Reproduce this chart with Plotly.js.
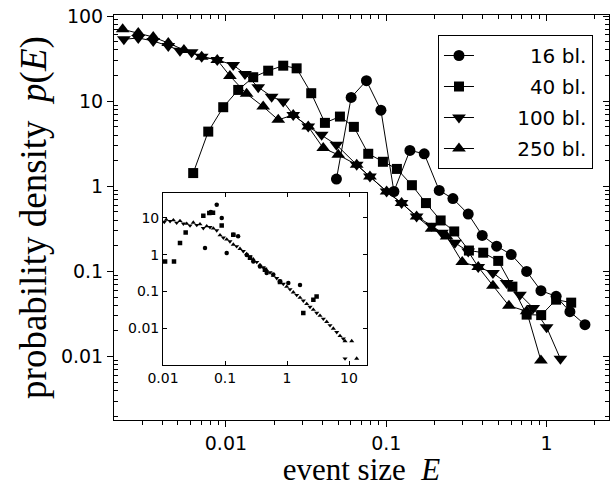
<!DOCTYPE html>
<html>
<head>
<meta charset="utf-8">
<script src="https://cdn.plot.ly/plotly-3.0.1.min.js"></script>
<style>html,body{margin:0;padding:0;background:#fff}#chart{width:612px;height:487px}</style>
</head>
<body>
<div id="chart"></div>
<script>
// ---- main panel data (event size E, probability density p(E)) ----
const seriesNames = ['\u2007\u2007\u2007\u200716 bl.', '\u2007\u2007\u2007\u200740 bl.', '\u2007\u2007\u2007100 bl.', '\u2007\u2007\u2007250 bl.'];

const E16 = [0.0489, 0.0604, 0.0752, 0.0926, 0.1116, 0.1404, 0.1725, 0.2139, 0.2604, 0.3244, 0.3966, 0.4878, 0.6014, 0.7505, 0.9215, 1.146, 1.397, 1.734];
const P16 = [1.215, 11.07, 17.4, 7.83, 0.869, 2.64, 2.41, 0.893, 0.717, 0.472, 0.265, 0.198, 0.158, 0.1001, 0.0595, 0.0510, 0.0337, 0.0237];

const E40 = [0.00625, 0.00776, 0.00962, 0.01193, 0.0148, 0.01835, 0.02277, 0.0276, 0.03404, 0.04145, 0.0514, 0.0628, 0.0772, 0.0953, 0.1165, 0.1445, 0.1768, 0.2183, 0.2653, 0.3276, 0.4023, 0.4991, 0.6118, 0.7505, 0.925, 1.146, 1.423];
const P40 = [1.43, 4.39, 8.49, 13.55, 19.1, 22.8, 26.1, 24.3, 12.4, 5.56, 6.59, 4.99, 2.41, 1.94, 1.60, 1.03, 0.635, 0.397, 0.295, 0.176, 0.166, 0.133, 0.0663, 0.0311, 0.0307, 0.0466, 0.043];

const E100 = [0.00231, 0.00284, 0.00352, 0.00437, 0.00517, 0.00611, 0.00706, 0.00883, 0.0111, 0.01314, 0.0159, 0.01928, 0.02277, 0.02629, 0.03261, 0.03953, 0.0489, 0.0654, 0.0791, 0.1005, 0.1246, 0.1546, 0.1918, 0.2223, 0.268, 0.3244, 0.3745, 0.4626, 0.563, 0.6816, 0.825, 1.0, 1.219];
const P100 = [53.3, 55.2, 50.9, 44.5, 39.2, 37.5, 33.3, 30.5, 26.6, 20.9, 14.6, 11.3, 9.88, 6.90, 5.03, 4.02, 3.07, 1.79, 1.30, 0.869, 0.635, 0.442, 0.344, 0.285, 0.217, 0.172, 0.1128, 0.0959, 0.0732, 0.0534, 0.0373, 0.0221, 0.0094];

const E250 = [0.00227, 0.00284, 0.00352, 0.00437, 0.00547, 0.00706, 0.00883, 0.01059, 0.01346, 0.01708, 0.0212, 0.02629, 0.03261, 0.04045, 0.0502, 0.0654, 0.0791, 0.1005, 0.1246, 0.1546, 0.1918, 0.2379, 0.2977, 0.3745, 0.4626, 0.5819, 0.7505, 0.9215];
const P250 = [69.8, 63.2, 56.7, 48.2, 39.9, 33.3, 30.5, 19.8, 12.2, 8.63, 6.03, 6.90, 5.03, 2.81, 2.34, 1.79, 1.30, 0.869, 0.635, 0.442, 0.317, 0.258, 0.129, 0.1128, 0.0681, 0.0396, 0.034, 0.00898];

// ---- inset data (rescaled collapse) ----
const iX16 = [0.0476, 0.059, 0.0735, 0.0886, 0.1065, 0.1361, 0.1626, 0.2239, 0.286, 0.366, 0.47, 0.6, 0.77, 1.05, 1.62];
const iY16 = [1.52, 14.6, 23, 10, 1.11, 3.5, 3.2, 0.99, 0.66, 0.48, 0.32, 0.29, 0.19, 0.17, 0.15];

const iX40 = [0.0108, 0.01504, 0.0188, 0.0232, 0.0447, 0.0558, 0.064, 0.0884, 0.136, 0.253, 0.44, 0.77, 1.83, 2.66, 3.0];
const iY40 = [0.66, 0.657, 2.08, 4.05, 11.5, 13.7, 13.9, 6.2, 3.5, 0.83, 0.39, 0.18, 0.026, 0.06, 0.073];

const iX100 = [0.0105, 0.0130, 0.0166, 0.0213, 0.0273, 0.0350, 0.0447, 0.0573, 0.0735, 0.094, 0.120, 0.154, 0.197, 0.253, 0.325, 0.415, 0.532, 0.682, 0.872, 1.118, 1.434, 1.832, 2.35, 3.013, 3.85, 4.938, 6.333, 8.093, 8.62];
const iY100 = [7.8, 8.2, 7.4, 7.0, 6.2, 6.4, 5.3, 5.6, 4.6, 2.9, 2.3, 1.7, 1.25, 0.9, 0.63, 0.45, 0.33, 0.23, 0.16, 0.115, 0.08, 0.056, 0.038, 0.026, 0.018, 0.012, 0.0078, 0.0052, 0.0015];

const iX250 = [0.0113, 0.0147, 0.0188, 0.0241, 0.0308, 0.0395, 0.0507, 0.0648, 0.0831, 0.1065, 0.1361, 0.1746, 0.2239, 0.2861, 0.3669, 0.4706, 0.6012, 0.7713, 0.989, 1.264, 1.621, 2.079, 2.657, 3.406, 4.368, 5.583, 7.159, 8.62, 11.05, 13.3];
const iY250 = [9.0, 8.7, 8.3, 7.0, 7.5, 6.8, 6.0, 5.2, 3.4, 2.6, 1.9, 1.45, 1.05, 0.75, 0.53, 0.38, 0.27, 0.19, 0.135, 0.095, 0.068, 0.046, 0.032, 0.022, 0.015, 0.0098, 0.0062, 0.0045, 0.0045, 0.0015];

// ---- tick labels and tick positions ----
const mainXTicks = [0.01, 0.1, 1];
const mainXText = ['0.01', '0.1', '1'];
const mainXMinor = [0.002, 0.003, 0.004, 0.005, 0.006, 0.007, 0.008, 0.009,
                    0.02, 0.03, 0.04, 0.05, 0.06, 0.07, 0.08, 0.09,
                    0.2, 0.3, 0.4, 0.5, 0.6, 0.7, 0.8, 0.9, 2];
const mainYTicks = [0.01, 0.1, 1, 10, 100];
const mainYText = ['0.01', '0.1', '1', '10', '100'];
const mainYMinor = [0.002, 0.003, 0.004, 0.005, 0.006, 0.007, 0.008, 0.009,
                    0.02, 0.03, 0.04, 0.05, 0.06, 0.07, 0.08, 0.09,
                    0.2, 0.3, 0.4, 0.5, 0.6, 0.7, 0.8, 0.9,
                    2, 3, 4, 5, 6, 7, 8, 9,
                    20, 30, 40, 50, 60, 70, 80, 90];
const insetXTicks = [0.01, 0.1, 1, 10];
const insetXText = ['0.01', '0.1', '1', '10'];
const insetYTicks = [0.01, 0.1, 1, 10];
const insetYText = ['0.01', '0.1', '1', '10'];

const symbols = ['circle', 'square', 'triangle-down', 'triangle-up'];
const sizes = [11, 10, 12, 12];
const mainX = [E16, E40, E100, E250];
const mainY = [P16, P40, P100, P250];
const insX = [iX16, iX40, iX100, iX250];
const insY = [iY16, iY40, iY100, iY250];

const traces = [];
for (let i = 0; i < 4; i++) {
  traces.push({
    x: mainX[i], y: mainY[i], type: 'scatter', mode: 'lines+markers',
    name: seriesNames[i], legendgroup: 'g' + i,
    line: {color: '#000', width: 1},
    marker: {symbol: symbols[i], size: sizes[i], color: '#000'},
    xaxis: 'x', yaxis: 'y'
  });
}
for (let i = 0; i < 4; i++) {
  traces.push({
    x: insX[i], y: insY[i], type: 'scatter', mode: 'markers',
    showlegend: false,
    marker: {symbol: symbols[i], size: 4.5, color: '#000'},
    xaxis: 'x2', yaxis: 'y2'
  });
}
// empty trace so the top/right frame axes exist
traces.push({x: [], y: [], type: 'scatter', mode: 'markers', showlegend: false, xaxis: 'x3', yaxis: 'y3'});

const tickFont = {family: 'DejaVu Sans, Arial, sans-serif', size: 19, color: '#000'};
const legendFont = {family: 'DejaVu Sans, Arial, sans-serif', size: 20, color: '#000'};
const insetFont = {family: 'DejaVu Sans, Arial, sans-serif', size: 14, color: '#000'};
const xTitleFont = {family: 'Liberation Serif, Times New Roman, serif', size: 31, color: '#000'};
const yTitleFont = {family: 'Liberation Serif, Times New Roman, serif', size: 37, color: '#000'};

const mainXRange = [-2.698, 0.389];
const mainYRange = [-2.745, 2.012];

const layout = {
  width: 612, height: 487,
  margin: {l: 114, r: 3, t: 15, b: 67},
  paper_bgcolor: '#fff', plot_bgcolor: '#fff',
  showlegend: true,
  legend: {
    x: 0.6545, y: 0.9506, xanchor: 'left', yanchor: 'top',
    bordercolor: '#000', borderwidth: 1, bgcolor: '#fff',
    font: legendFont, traceorder: 'grouped', tracegroupgap: 2
  },
  xaxis: {
    type: 'log', range: mainXRange, domain: [0, 1],
    tickmode: 'array', tickvals: mainXTicks, ticktext: mainXText, tickfont: tickFont,
    ticks: 'outside', ticklen: 6, tickwidth: 1, tickcolor: '#000',
    minor: {tickmode: 'array', tickvals: mainXMinor, ticks: 'outside', ticklen: 4, tickcolor: '#000', showgrid: false},
    showline: true, linecolor: '#000', linewidth: 1, mirror: false,
    showgrid: false, zeroline: false,
    title: {text: 'event size  <i>E</i>', font: xTitleFont, standoff: 0}
  },
  yaxis: {
    type: 'log', range: mainYRange, domain: [0, 1],
    tickmode: 'array', tickvals: mainYTicks, ticktext: mainYText, tickfont: tickFont,
    ticks: 'outside', ticklen: 6, tickwidth: 1, tickcolor: '#000',
    minor: {tickmode: 'array', tickvals: mainYMinor, ticks: 'inside', ticklen: 4, tickcolor: '#000', showgrid: false},
    showline: true, linecolor: '#000', linewidth: 1, mirror: false,
    showgrid: false, zeroline: false,
    title: {text: 'probability density  <i>p</i>(<i>E</i>)', font: yTitleFont, standoff: 2}
  },
  xaxis3: {
    type: 'log', range: mainXRange, overlaying: 'x', anchor: 'y3', side: 'top',
    tickmode: 'array', tickvals: mainXTicks, showticklabels: false,
    ticks: 'inside', ticklen: 6, tickcolor: '#000',
    minor: {tickmode: 'array', tickvals: mainXMinor, ticks: 'inside', ticklen: 4, tickcolor: '#000', showgrid: false},
    showline: true, linecolor: '#000', linewidth: 1,
    showgrid: false, zeroline: false
  },
  yaxis3: {
    type: 'log', range: mainYRange, overlaying: 'y', anchor: 'x3', side: 'right',
    tickmode: 'array', tickvals: mainYTicks, showticklabels: false,
    ticks: 'inside', ticklen: 6, tickcolor: '#000',
    minor: {tickmode: 'array', tickvals: mainYMinor, ticks: 'inside', ticklen: 4, tickcolor: '#000', showgrid: false},
    showline: true, linecolor: '#000', linewidth: 1,
    showgrid: false, zeroline: false
  },
  xaxis2: {
    type: 'log', range: [-2.0, 1.285], domain: [0.099, 0.5105], anchor: 'y2',
    tickmode: 'array', tickvals: insetXTicks, ticktext: insetXText, tickfont: insetFont,
    ticks: 'inside', ticklen: 4, tickcolor: '#000',
    showline: true, linecolor: '#000', linewidth: 1, mirror: 'allticks',
    showgrid: false, zeroline: false
  },
  yaxis2: {
    type: 'log', range: [-3.0, 1.68], domain: [0.1358, 0.5605], anchor: 'x2',
    tickmode: 'array', tickvals: insetYTicks, ticktext: insetYText, tickfont: insetFont,
    ticks: 'inside', ticklen: 4, tickcolor: '#000',
    showline: true, linecolor: '#000', linewidth: 1, mirror: 'allticks',
    showgrid: false, zeroline: false
  }
};

Plotly.newPlot('chart', traces, layout, {displayModeBar: false, staticPlot: true});
</script>
</body>
</html>
